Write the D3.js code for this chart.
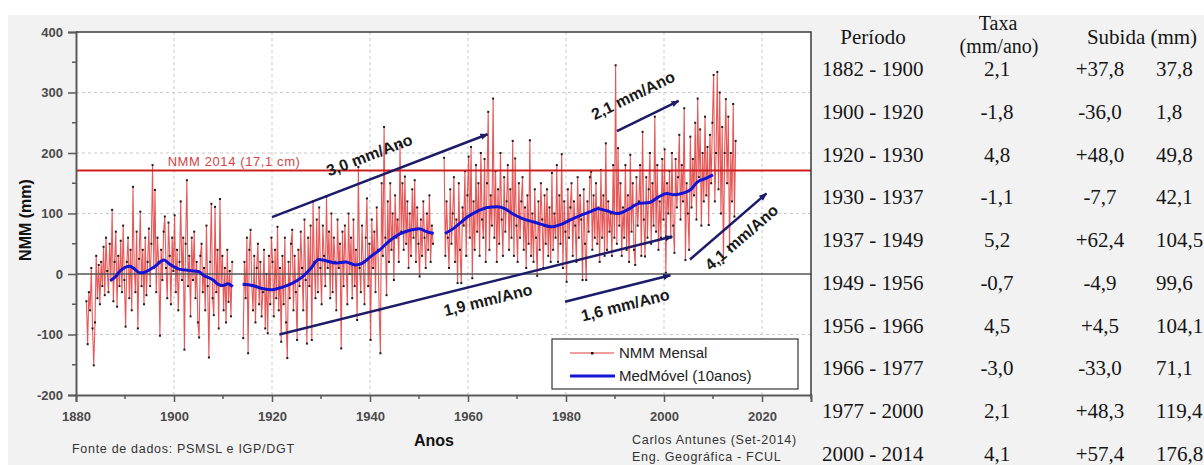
<!DOCTYPE html>
<html>
<head>
<meta charset="utf-8">
<script src="https://cdnjs.cloudflare.com/ajax/libs/d3/7.8.5/d3.min.js"></script>
<style>
  body { margin: 0; background: #fff; }
  text { font-family: "Liberation Sans", Arial, sans-serif; }
  .tbl { font-family: "Liberation Serif", "Times New Roman", serif; font-size: 21px; fill: #151515; }
</style>
</head>
<body>
<div class="chart"></div>
<script>
// Nivel medio do mar - Cascais (dados mensais)
var svgWidth = 1204;
var svgHeight = 465;

// monthly-ish values (4 per year), each segment starts at its year
var seg1Start = 1882;
var seg1Values = [
  -45, -116, -30, -60,   10, -90, -151, -80,   30, -40, 15, -50,   20, -20, 45, -35,
  60, 5, -30, 50,   -10, 106, -45, 20,   70, -54, 30, -20,   55, -30, 80, -10,
  -87, 20, 60, -40,   40, -60, 144, 10,   -30, 70, -90, 25,   103, -20, 40, -50,
  60, -35, 20, 75,   -20, 50, 180, 10,   139, -30, 60, 20,   -102, 40, -10, 70,
  95, 10, -40, 85,   30, -50, 60, 5,   97, -30, 40, -60,   20, 120, -10, 60,
  -125, 50, 155, -20,   30, -70, 60, -10,   70, -40, 20, -80,   -105, 30, 50, -30,
  10, -60, 80, -20,   -138, 20, 116, -40,   -68, 111, -30, 40,   -90, 124, -20, 30,
  -60, 10, -80, 40,   -46, 5, -70, 20
];

var seg2Start = 1914;
var seg2Values = [
  -106, 20, -40, 60,   -131, 40, 73, -20,   -60, 30, -80, 10,   50, -50, 20, -70,
  -30, 40, -90, 0,   -98, 30, -50, 60,   20, -70, 40, -40,   78, -60, 10, -112,
  30, -50, 60, -80,   -139, 20, -40, 50,   73, -60, 30, -30,   -109, 40, -20, 70,
  10, -60, 90, -10,   -115, 60, -20, 80,   -109, 120, 20, -40,   90, -30, 110, 10,
  -50, 80, 30, -20,   128, 10, 70, -40,   100, -30, 60, 20,   -60, 90, 10, 50,
  -123, 70, -20, 80,   20, -50, 100, 0,   60, -40, 90, -20,   40, -76, 177, 10,
  -30, 80, 20, -50,   60, 125, -20, 50,   -109, 90, 10, 70,   -30, 110, 40, -60,
  -131, 150, 30, 243,   60, -35, 120, 20,   150, 40, 100, -10,   130, 60, 90, 20,
  213, 70, 150, 40,   161, 50, 120, 10,   100, 30, 140, 60,   155, 20, 110, 50,
  -4, 90, 30, 120,   60, 10, 100, 40,   130, 20, 80, 50
];

var seg3Start = 1955;
var seg3Values = [
  192, 30, 120, 60,   10, 140, 50, 100,   160, 20, 90, -15,   150, 40, -15, 110,
  80, 170, 30, 130,   194, 60, 210, -7,   120, 40, 180, 70,   150, 30, 200, 90,
  60, 190, 20, 150,   268, 40, 130, 80,   290, 60, 170, 20,   140, 50, 200, 90,
  30, 160, 70, 120,   180, 40, 140, 60,   220, 30, 191, 80,   20, 150, 60, 120,
  160, 40, 110, 10,   130, 50, 221, 30,   100, 20, 140, 60,   -3, 120, 40, 150,
  90, 10, 130, 50,   140, 30, 110, 20,   167, 40, 100, 60,   180, 20, 130, 50,
  198, 10, 120, 70,   -13, 140, 60, 110,   150, 30, 120, 80,   20, 160, 60, 130,
  90, -10, 140, 50,   -10, 120, 70, 160,   169, 40, 130, 60,   150, 50, 110, 20,
  172, 60, 130, 30,   216, 40, 120, 70,   100, 30, 180, 60,   345, 50, 208, 80,
  150, 30, 110, 60,   180, 40, 130, 20,   197, 70, 150, 40,   15, 160, 80, 120,
  180, 30, 235, 90,   29, 160, 60, 140,   200, 50, 150, 80,   260, 70, 180, 40,
  120, 60, 190, 90,   206, 2, 150, 100,   170, 60, 200, 80,   35, 190, 110, 160,
  230, 90, 180, 120,   274, 23, 150, 100,   40, 227, 110, 190,   130, 250, 90, 290,
  160, 239, 80, 200,   120, 260, 130, 210,   81, 230, 150, 250,   329, 120, 200, 334,
  140, 300, 100, 243,   18, 200, 289, 150,   260, 40, 200, 120,   281, 95, 220
];

// 10-year moving average [year, mm]
var ma1 = [[1887,-11],[1888,-5],[1889,5],[1891,13],[1892,8],[1893,2],[1894,3],[1896,12],[1898,23],
  [1899,17],[1900,12],[1901,8],[1903,6],[1905,4],[1906,-2],[1908,-10],[1909,-17],[1910,-19],[1911,-16],[1912,-21]];
var ma2 = [[1914,-17],[1916,-19],[1918,-24],[1920,-26],[1922,-22],[1924,-16],[1926,-6],[1928,10],[1929.5,24],
  [1931,22],[1933,18],[1935,20],[1937,15],[1938.5,18],[1940,28],[1942,40],[1944,55],[1946,66],[1948,72],
  [1950,75],[1951.5,70],[1953,67]];
var ma3 = [[1955.3,67],[1957,75],[1958.5,85],[1960,95],[1962,104],[1964,110],[1966,111],[1967.5,108],[1969,100],
  [1971,92],[1973.4,86],[1975,82],[1977,78],[1979,82],[1981,90],[1983,97],[1985,103],[1986.5,108],[1988.5,104],
  [1990.5,100],[1992.5,106],[1995,117],[1997,118],[1999,128],[2000.6,133],[2002,131],[2004,134],[2005.5,140],
  [2006.8,152],[2008.5,158],[2010,164]];

var nmm2014 = 171;

// trend lines (years, mm) and their labels
var trendYears = [[1920, 1964], [1921.5, 2001.7], [1979.8, 2001.3], [1990.4, 2003], [2005.3, 2020.9]];
var trendValues = [[94, 231], [-100, 62], [-46, -2], [236, 286], [24, 133]];
var trendLabels = ["3,0 mm/Ano", "1,9 mm/Ano", "1,6 mm/Ano", "2,1 mm/Ano", "4,1 mm/Ano"];

// table
var tablePeriods = ["1882 - 1900", "1900 - 1920", "1920 - 1930", "1930 - 1937", "1937 - 1949",
  "1949 - 1956", "1956 - 1966", "1966 - 1977", "1977 - 2000", "2000 - 2014"];
var tableRates = ["2,1", "-1,8", "4,8", "-1,1", "5,2", "-0,7", "4,5", "-3,0", "2,1", "4,1"];
var tableRises = ["+37,8", "-36,0", "+48,0", "-7,7", "+62,4", "-4,9", "+4,5", "-33,0", "+48,3", "+57,4"];
var tableTotals = ["37,8", "1,8", "49,8", "42,1", "104,5", "99,6", "104,1", "71,1", "119,4", "176,8"];

var yMajor = [-200, -100, 0, 100, 200, 300, 400];
var yMinor = [-150, -50, 50, 150, 250, 350];
var xMajor = [1880, 1900, 1920, 1940, 1960, 1980, 2000, 2020];
var xMinor = [1890, 1910, 1930, 1950, 1970, 1990, 2010, 2030];

var plot = { left: 76, right: 811, top: 32, bottom: 395 };

var svg = d3.select(".chart")
  .append("svg")
  .attr("width", svgWidth)
  .attr("height", svgHeight);

// grey page background + white plot area
svg.append("rect")
  .attr("x", 8).attr("y", 15)
  .attr("width", svgWidth - 8).attr("height", svgHeight - 15)
  .attr("fill", "#f2f2f2");

svg.append("rect")
  .attr("x", plot.left).attr("y", plot.top)
  .attr("width", plot.right - plot.left).attr("height", plot.bottom - plot.top)
  .attr("fill", "#fff");

var x = d3.scaleLinear().domain([1880, 2030]).range([plot.left, plot.right]);
var y = d3.scaleLinear().domain([-200, 400]).range([plot.bottom, plot.top]);

// dashed grid
svg.append("g").selectAll("line")
  .data(xMajor.filter(d => d > 1880))
  .enter().append("line")
  .attr("x1", d => x(d)).attr("x2", d => x(d))
  .attr("y1", plot.top).attr("y2", plot.bottom)
  .attr("stroke", "#c8c8c8").attr("stroke-dasharray", "3,3");

svg.append("g").selectAll("line")
  .data(yMajor.filter(d => d !== 0 && d > -200 && d < 400))
  .enter().append("line")
  .attr("x1", plot.left).attr("x2", plot.right)
  .attr("y1", d => y(d)).attr("y2", d => y(d))
  .attr("stroke", "#c8c8c8").attr("stroke-dasharray", "3,3");

// monthly series
function toPoints(start, values) {
  return values.map((v, i) => ({ year: start + i * 0.25 + 0.125, value: v }));
}
var segments = [toPoints(seg1Start, seg1Values), toPoints(seg2Start, seg2Values), toPoints(seg3Start, seg3Values)];

var line = d3.line().x(d => x(d.year)).y(d => y(d.value));

svg.append("g").selectAll("path")
  .data(segments)
  .enter().append("path")
  .attr("d", line)
  .attr("fill", "none")
  .attr("stroke", "#e03c3c")
  .attr("stroke-width", 1.1)
  .attr("opacity", 0.85);

svg.append("g").selectAll("rect")
  .data(segments.flat())
  .enter().append("rect")
  .attr("x", d => x(d.year) - 1)
  .attr("y", d => y(d.value) - 1)
  .attr("width", 2).attr("height", 2)
  .attr("fill", "#1a1a1a");

// zero line
svg.append("line")
  .attr("x1", plot.left).attr("x2", plot.right)
  .attr("y1", y(0)).attr("y2", y(0))
  .attr("stroke", "#555").attr("stroke-width", 1.5);

// NMM 2014 reference
svg.append("line")
  .attr("x1", plot.left).attr("x2", plot.right)
  .attr("y1", y(nmm2014)).attr("y2", y(nmm2014))
  .attr("stroke", "#cc2020").attr("stroke-width", 2);

svg.append("text")
  .attr("x", x(1898.7)).attr("y", y(nmm2014) - 5)
  .attr("fill", "#d24545")
  .style("font-size", "13px")
  .style("letter-spacing", "0.6px")
  .text("NMM 2014 (17,1 cm)");

// moving average
var maLine = d3.line().x(d => x(d[0])).y(d => y(d[1])).curve(d3.curveMonotoneX);
svg.append("g").selectAll("path")
  .data([ma1, ma2, ma3])
  .enter().append("path")
  .attr("d", maLine)
  .attr("fill", "none")
  .attr("stroke", "#1414d2")
  .attr("stroke-width", 3);

// arrow head
svg.append("defs").append("marker")
  .attr("id", "arrow")
  .attr("viewBox", "0 0 10 10")
  .attr("refX", 9).attr("refY", 5)
  .attr("markerWidth", 8).attr("markerHeight", 8)
  .attr("markerUnits", "userSpaceOnUse")
  .attr("orient", "auto")
  .append("path")
  .attr("d", "M0,1 L10,5 L0,9 z")
  .attr("fill", "#1c1c6b");

// label placement along each trend line (fraction, perpendicular px; + = above)
var labelPlace = [[0.49, 23], [0.52, -17], [0.53, -18], [0.44, 25], [0.53, -17]];

var trends = trendLabels.map((lab, i) => ({
  x1: x(trendYears[i][0]), y1: y(trendValues[i][0]),
  x2: x(trendYears[i][1]), y2: y(trendValues[i][1]),
  label: lab, t: labelPlace[i][0], d: labelPlace[i][1]
}));

svg.append("g").selectAll("line")
  .data(trends)
  .enter().append("line")
  .attr("x1", d => d.x1).attr("y1", d => d.y1)
  .attr("x2", d => d.x2).attr("y2", d => d.y2)
  .attr("stroke", "#1c1c6b")
  .attr("stroke-width", 2.5)
  .attr("marker-end", "url(#arrow)");

svg.append("g").selectAll("text")
  .data(trends)
  .enter().append("text")
  .attr("transform", function(d) {
    var dx = d.x2 - d.x1, dy = d.y2 - d.y1;
    var len = Math.sqrt(dx * dx + dy * dy);
    var ux = dx / len, uy = dy / len;
    var cx = d.x1 + dx * d.t + uy * d.d;
    var cy = d.y1 + dy * d.t - ux * d.d;
    var ang = Math.atan2(dy, dx) * 180 / Math.PI;
    return `translate(${cx},${cy}) rotate(${ang})`;
  })
  .attr("text-anchor", "middle")
  .attr("dominant-baseline", "central")
  .attr("fill", "#1a1a1a")
  .style("font-size", "16px")
  .style("font-weight", "bold")
  .text(d => d.label);

// axes
var leftAxis = d3.axisLeft(y).tickValues(yMajor).tickFormat(d => String(d)).tickSize(8).tickPadding(5);
var yAxis = svg.append("g")
  .attr("transform", `translate(${plot.left},0)`)
  .call(leftAxis);

var bottomAxis = d3.axisBottom(x).tickValues(xMajor).tickFormat(d => String(d)).tickSize(7).tickPadding(10);
var xAxis = svg.append("g")
  .attr("transform", `translate(0,${plot.bottom})`)
  .call(bottomAxis);

[yAxis, xAxis].forEach(function(ax) {
  ax.select(".domain").attr("stroke", "#5a5a5a").attr("stroke-width", 2);
  ax.selectAll(".tick line").attr("stroke", "#5a5a5a").attr("stroke-width", 1.5);
  ax.selectAll(".tick text")
    .attr("fill", "#4a4a4a")
    .style("font-size", "13px")
    .style("font-weight", "bold")
    .style("font-family", "'Liberation Sans', Arial, sans-serif");
});

// minor ticks
svg.append("g").selectAll("line")
  .data(yMinor)
  .enter().append("line")
  .attr("x1", plot.left - 4).attr("x2", plot.left)
  .attr("y1", d => y(d)).attr("y2", d => y(d))
  .attr("stroke", "#5a5a5a").attr("stroke-width", 1.5);

svg.append("g").selectAll("line")
  .data(xMinor)
  .enter().append("line")
  .attr("x1", d => x(d)).attr("x2", d => x(d))
  .attr("y1", plot.bottom).attr("y2", plot.bottom + 4)
  .attr("stroke", "#5a5a5a").attr("stroke-width", 1.5);

// top and right frame
svg.append("path")
  .attr("d", `M${plot.left},${plot.top}H${plot.right}V${plot.bottom}`)
  .attr("fill", "none")
  .attr("stroke", "#3a3a3a")
  .attr("stroke-width", 1.5);

// axis titles
svg.append("text")
  .attr("transform", "translate(31,220) rotate(-90)")
  .attr("text-anchor", "middle")
  .attr("fill", "#111")
  .style("font-size", "16px").style("font-weight", "bold")
  .text("NMM (mm)");

svg.append("text")
  .attr("x", 434).attr("y", 446)
  .attr("text-anchor", "middle")
  .attr("fill", "#111")
  .style("font-size", "16px").style("font-weight", "bold")
  .text("Anos");

svg.append("text")
  .attr("x", 72).attr("y", 453)
  .attr("fill", "#333")
  .style("font-size", "12.5px").style("letter-spacing", "0.7px")
  .text("Fonte de dados: PSMSL e IGP/DGT");

svg.append("text")
  .attr("x", 632).attr("y", 444)
  .attr("fill", "#333")
  .style("font-size", "12.5px").style("letter-spacing", "0.7px")
  .text("Carlos Antunes (Set-2014)");

svg.append("text")
  .attr("x", 632).attr("y", 461)
  .attr("fill", "#333")
  .style("font-size", "12.5px").style("letter-spacing", "0.7px")
  .text("Eng. Geográfica - FCUL");

// legend
var legend = svg.append("g");
legend.append("rect")
  .attr("x", 552).attr("y", 339)
  .attr("width", 246).attr("height", 50)
  .attr("fill", "#fff")
  .attr("stroke", "#333").attr("stroke-width", 1.2);

legend.append("line")
  .attr("x1", 570).attr("x2", 614).attr("y1", 353).attr("y2", 353)
  .attr("stroke", "#e03c3c").attr("stroke-width", 1);
legend.append("rect")
  .attr("x", 591).attr("y", 352).attr("width", 2.5).attr("height", 2.5)
  .attr("fill", "#111");
legend.append("line")
  .attr("x1", 570).attr("x2", 615).attr("y1", 376).attr("y2", 376)
  .attr("stroke", "#1414d2").attr("stroke-width", 3);

legend.append("text")
  .attr("x", 619).attr("y", 358)
  .attr("fill", "#222").style("font-size", "15px")
  .text("NMM Mensal");
legend.append("text")
  .attr("x", 619).attr("y", 381)
  .attr("fill", "#222").style("font-size", "15px")
  .text("MedMóvel (10anos)");

// table on the right
var table = svg.append("g").attr("class", "tbl");

table.append("text").attr("class", "tbl").attr("x", 873).attr("y", 44)
  .attr("text-anchor", "middle").text("Período");
table.append("text").attr("class", "tbl").attr("x", 998).attr("y", 30)
  .attr("text-anchor", "middle").style("font-size", "20px").text("Taxa");
table.append("text").attr("class", "tbl").attr("x", 999).attr("y", 53)
  .attr("text-anchor", "middle").style("font-size", "20px").text("(mm/ano)");
table.append("text").attr("class", "tbl").attr("x", 1142).attr("y", 44)
  .attr("text-anchor", "middle").text("Subida (mm)");

var rowY = d3.scalePoint().domain(d3.range(tablePeriods.length)).range([76, 461]);

var rows = table.selectAll("g.row")
  .data(tablePeriods)
  .enter().append("g")
  .attr("class", "row")
  .attr("transform", (d, i) => `translate(0,${rowY(i)})`);

rows.append("text").attr("class", "tbl").attr("x", 822).text(d => d);
rows.append("text").attr("class", "tbl").attr("x", 997).attr("text-anchor", "middle").text((d, i) => tableRates[i]);
rows.append("text").attr("class", "tbl").attr("x", 1100).attr("text-anchor", "middle").text((d, i) => tableRises[i]);
rows.append("text").attr("class", "tbl").attr("x", 1156).text((d, i) => tableTotals[i]);
</script>
</body>
</html>
